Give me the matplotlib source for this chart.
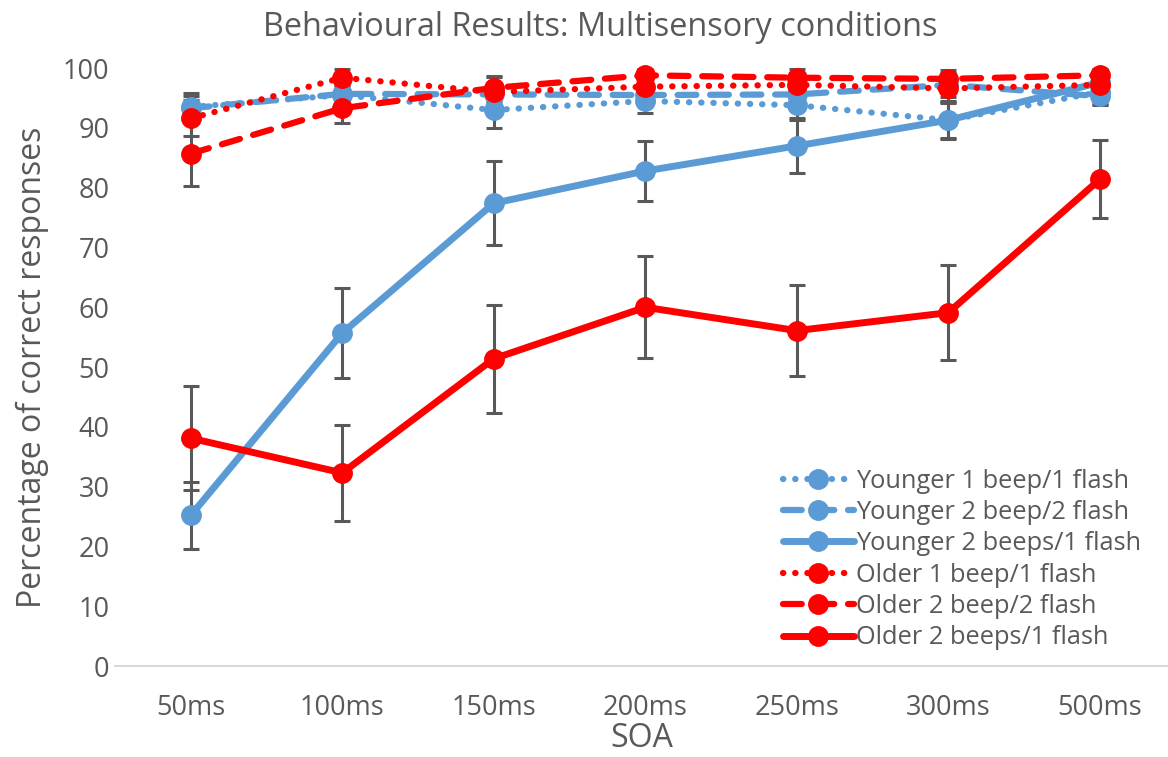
import numpy as np
import matplotlib
matplotlib.use("Agg")
from matplotlib import pyplot as plt

plt.rcParams['font.family'] = ['Open Sans', 'DejaVu Sans']

# dados
soa = ['50ms', '100ms', '150ms', '200ms', '250ms', '300ms', '500ms']

young_11 = [93.5, 95.5, 93.0, 94.5, 93.8, 91.3, 96.0]
young_11_err = [2.3, 2.0, 3.0, 2.0, 2.5, 3.0, 2.0]
young_22 = [93.3, 95.7, 95.6, 95.5, 95.6, 97.2, 95.3]
young_22_err = [2.0, 1.5, 1.5, 1.5, 2.0, 2.0, 1.5]
young_21 = [25.2, 55.7, 77.4, 82.8, 87.0, 91.3, 97.6]
young_21_err = [5.6, 7.5, 7.0, 5.0, 4.6, 3.2, 1.5]

old_11 = [91.6, 98.4, 96.0, 96.9, 97.2, 96.6, 97.2]
old_11_err = [3.0, 1.5, 2.5, 2.0, 2.0, 2.5, 2.0]
old_22 = [85.7, 93.3, 96.7, 98.8, 98.4, 98.2, 98.8]
old_22_err = [5.4, 2.4, 2.0, 1.0, 1.5, 1.5, 1.0]
old_21 = [38.1, 32.3, 51.4, 60.0, 56.1, 59.1, 81.4]
old_21_err = [8.7, 8.0, 9.0, 8.5, 7.6, 8.0, 6.5]

azul = '#5B9BD5'
verm = '#FF0000'
cinza = '#595959'

series = [
    ('Younger 1 beep/1 flash', young_11, young_11_err, azul, 'dotted'),
    ('Younger 2 beep/2 flash', young_22, young_22_err, azul, 'dashed'),
    ('Younger 2 beeps/1 flash', young_21, young_21_err, azul, 'solid'),
    ('Older 1 beep/1 flash', old_11, old_11_err, verm, 'dotted'),
    ('Older 2 beep/2 flash', old_22, old_22_err, verm, 'dashed'),
    ('Older 2 beeps/1 flash', old_21, old_21_err, verm, 'solid'),
]

fig = plt.figure(figsize=(11.68, 7.57), dpi=100)
ax = fig.add_axes([0.0985, 0.1202, 0.9015, 0.7898])

x = np.arange(len(soa))
for nome, vals, err, cor, estilo in series:
    if estilo == 'dotted':
        ls = (0, (0.05, 1.9))
        lw = 4.5
    elif estilo == 'dashed':
        ls = (0, (3.0, 2.2))
        lw = 4.5
    else:
        ls = '-'
        lw = 5.0
    ax.errorbar(x, vals, yerr=err, fmt='none', ecolor=cinza, elinewidth=2.2,
                capsize=6, capthick=2.2, zorder=2, clip_on=False)
    ax.plot(x, vals, linestyle=ls, color=cor, lw=lw, marker='o', markersize=14,
            dash_capstyle='round', solid_capstyle='round', label=nome,
            zorder=3, clip_on=False)

ax.set_xlim(-0.5, 6.45)
ax.set_ylim(0, 100)
ax.set_yticks(np.arange(0, 101, 10))
ax.set_xticks(x)
ax.set_xticklabels(soa)
ax.tick_params(axis='both', length=0, labelsize=19.5, colors=cinza)
ax.tick_params(axis='x', pad=20)
ax.tick_params(axis='y', pad=4)

for s in ['top', 'right', 'left']:
    ax.spines[s].set_visible(False)
ax.spines['bottom'].set_color('#D9D9D9')
ax.spines['bottom'].set_linewidth(1.5)

fig.text(600 / 1168, 1 - 27 / 757, 'Behavioural Results: Multisensory conditions',
         fontsize=23.4, color=cinza, ha='center', va='center')
ax.set_ylabel('Percentage of correct responses', fontsize=23, color=cinza, labelpad=10)
ax.set_xlabel('SOA', fontsize=23, color=cinza, labelpad=0)

leg = ax.legend(loc='lower right', bbox_to_anchor=(0.994, -0.008), frameon=False,
                fontsize=18.3, handlelength=2.8, numpoints=1, labelspacing=0.25,
                handletextpad=0.1, labelcolor=cinza, borderpad=0.3)

fig.savefig('out.png', dpi=100)
